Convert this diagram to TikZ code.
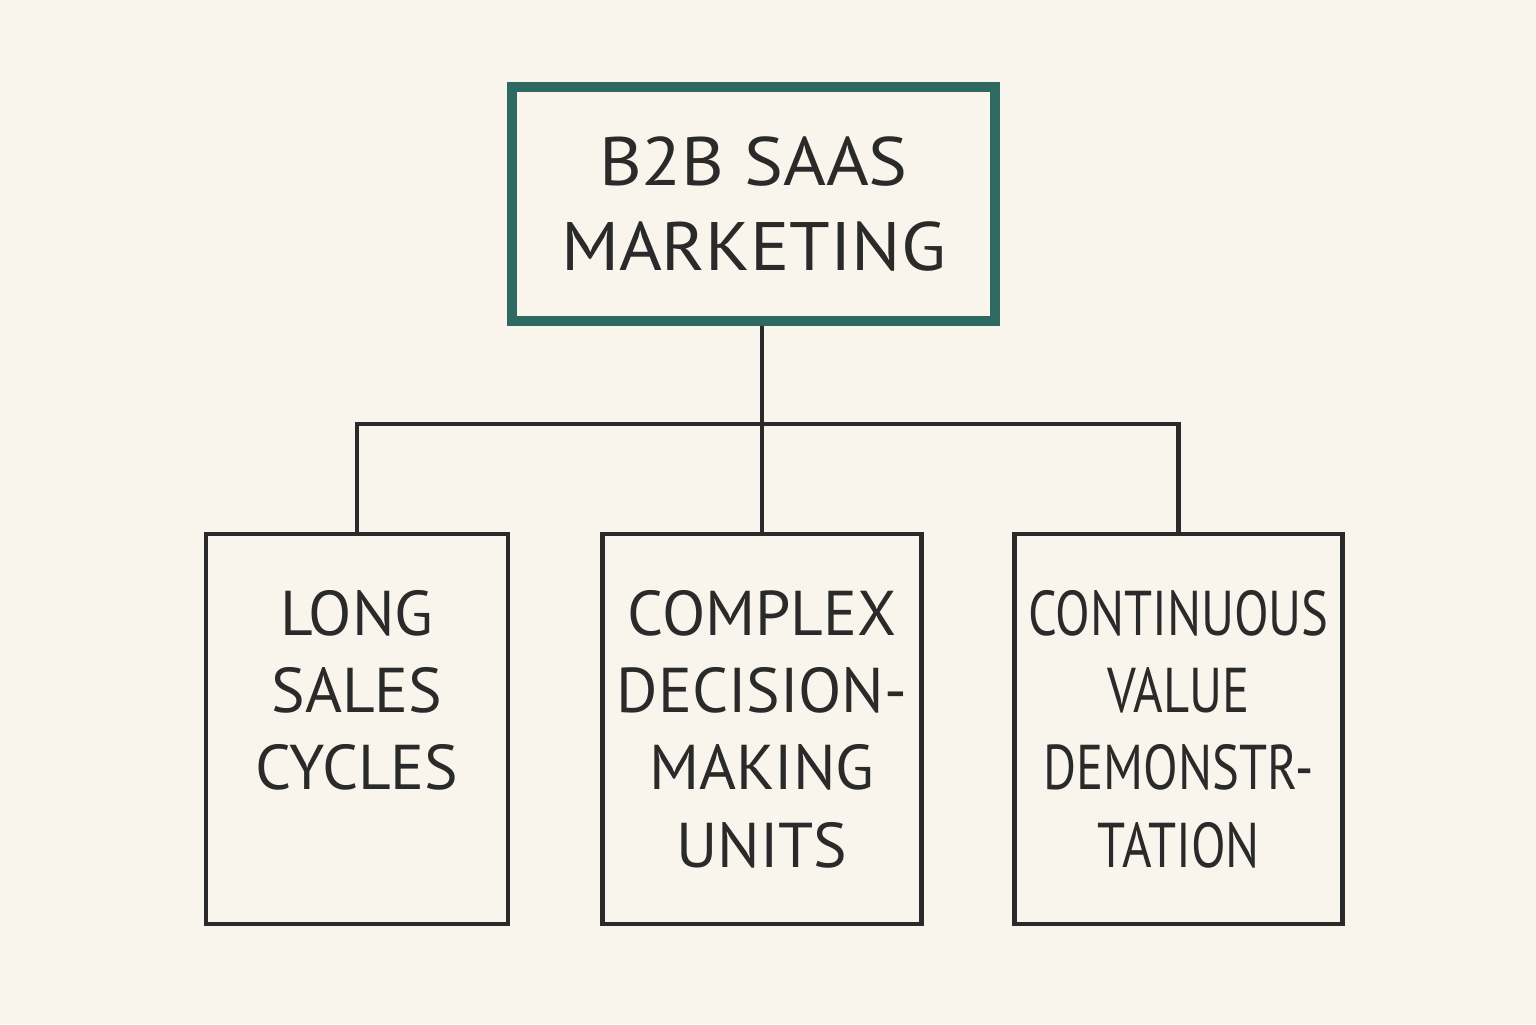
\documentclass[tikz,border=0pt]{standalone}
\usepackage{fontspec}
\setmainfont{PT Sans}
\usetikzlibrary{positioning, calc}

\definecolor{paper}{HTML}{FAF5EC}
\definecolor{ink}{HTML}{2A2A2A}
\definecolor{tealink}{HTML}{2F6A62}

\begin{document}
\begin{tikzpicture}[
			font=\fontsize{18}{22}\selectfont,
			text=ink,
			topbox/.style={draw=tealink, line width=2.8pt, minimum width=4.83cm, minimum height=2.34cm, align=center, fill=paper,
				font=\addfontfeatures{FakeStretch=1.07}\fontsize{19.5}{24}\selectfont},
			leaf/.style={draw=ink, line width=1.4pt, minimum height=3.9cm, align=center},
			link/.style={draw=ink, line width=1.4pt}
		]

		% fondo y margenes
		\fill[paper] (0,0) rectangle (15.36,-10.24);
		\useasboundingbox (0,0) rectangle (15.36,-10.24);

		% nodo raiz
		\node[topbox] (root) at (7.535,-2.04) {B2B SAAS\\MARKETING};

		% hojas
		\node[leaf, minimum width=3.02cm] (c1) at (3.57,-7.29) {LONG\\SALES\\CYCLES\\\phantom{UNITS}};
		\node[leaf, minimum width=3.19cm] (c2) at (7.62,-7.29) {COMPLEX\\DECISION-\\MAKING\\UNITS};
		\node[leaf, minimum width=3.28cm, font=\addfontfeatures{FakeStretch=0.8}\fontsize{18}{22}\selectfont] (c3) at (11.785,-7.29) {CONTINUOUS\\VALUE\\DEMONSTR-\\TATION};

		% conexiones
		\coordinate (hub) at (7.62,-4.24);
		\draw[link] (hub |- root.south) -- (c2.north);
		\draw[link] (c1.north) |- (hub) -| (c3.north);

	\end{tikzpicture}
\end{document}
